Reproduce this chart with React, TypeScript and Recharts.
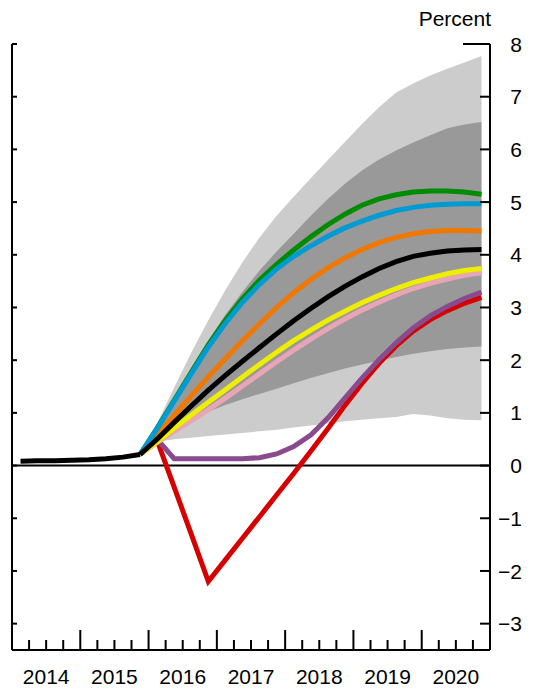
import { ComposedChart, Line, Area, XAxis, YAxis, ReferenceLine } from 'recharts'

const FONT = '"Liberation Sans", Arial, Helvetica, sans-serif'

// calendar years on the x axis (each split into quarters)
const years = ['2014', '2015', '2016', '2017', '2018', '2019', '2020']
const quarterNames = ['Q1', 'Q2', 'Q3', 'Q4']
const yTicks = [-3, -2, -1, 0, 1, 2, 3, 4, 5, 6, 7, 8]

// 2014Q1 - 2015Q4
const history = [0.08, 0.09, 0.09, 0.1, 0.11, 0.13, 0.16, 0.21]

// projections, 2016Q1 - 2020Q4
const green = [0.71, 1.24, 1.77, 2.29, 2.76, 3.17, 3.52, 3.82, 4.09, 4.34, 4.57, 4.77, 4.94, 5.06, 5.14, 5.19, 5.21, 5.21, 5.19, 5.15]
const blue = [0.7, 1.22, 1.74, 2.25, 2.7, 3.1, 3.44, 3.73, 3.97, 4.17, 4.35, 4.51, 4.64, 4.75, 4.84, 4.9, 4.94, 4.96, 4.97, 4.97]
const orange = [0.58, 0.95, 1.32, 1.68, 2.03, 2.37, 2.69, 3.0, 3.28, 3.53, 3.75, 3.94, 4.1, 4.23, 4.33, 4.4, 4.44, 4.46, 4.46, 4.45]
const baseline = [0.5, 0.82, 1.13, 1.43, 1.71, 1.98, 2.24, 2.5, 2.75, 2.98, 3.2, 3.4, 3.58, 3.74, 3.87, 3.97, 4.03, 4.07, 4.09, 4.1]
const yellow = [0.45, 0.71, 0.96, 1.2, 1.44, 1.68, 1.92, 2.15, 2.37, 2.57, 2.76, 2.93, 3.09, 3.23, 3.36, 3.47, 3.56, 3.64, 3.7, 3.74]
const pink = [0.44, 0.65, 0.85, 1.06, 1.28, 1.51, 1.74, 1.97, 2.19, 2.4, 2.6, 2.78, 2.95, 3.1, 3.24, 3.36, 3.46, 3.54, 3.61, 3.66]
const purple = [0.5, 0.13, 0.13, 0.13, 0.13, 0.13, 0.15, 0.22, 0.36, 0.58, 0.9, 1.28, 1.66, 2.01, 2.33, 2.61, 2.84, 3.02, 3.17, 3.29]
const red = [0.48, -0.41, -1.3, -2.2, -1.79, -1.38, -0.97, -0.56, -0.15, 0.27, 0.7, 1.14, 1.56, 1.94, 2.27, 2.55, 2.77, 2.94, 3.08, 3.19]

// uncertainty bands, 2016Q1 - 2020Q4
const outerHigh = [0.8, 1.48, 2.14, 2.76, 3.33, 3.86, 4.33, 4.74, 5.1, 5.45, 5.8, 6.14, 6.48, 6.8, 7.08, 7.25, 7.4, 7.53, 7.65, 7.77]
const innerHigh = [0.72, 1.3, 1.85, 2.38, 2.86, 3.3, 3.7, 4.06, 4.4, 4.74, 5.06, 5.35, 5.6, 5.81, 5.98, 6.13, 6.27, 6.4, 6.47, 6.52]
const innerLow = [0.45, 0.65, 0.85, 1.02, 1.15, 1.26, 1.36, 1.46, 1.56, 1.66, 1.75, 1.84, 1.92, 1.99, 2.06, 2.12, 2.17, 2.21, 2.24, 2.26]
const outerLow = [0.45, 0.5, 0.53, 0.56, 0.59, 0.62, 0.65, 0.68, 0.72, 0.76, 0.8, 0.84, 0.87, 0.9, 0.92, 0.98, 0.95, 0.9, 0.87, 0.86]

const PROJ_START = history.length // index of 2016Q1
const quarters = years.flatMap((y) => quarterNames.map((q) => y + q))

const proj = (arr: number[], i: number, joinHistory: boolean) => {
  if (joinHistory && i === PROJ_START - 1) return history[i]
  return i >= PROJ_START ? arr[i - PROJ_START] : null
}

const data = quarters.map((label, i) => ({
  label,
  x: i + 0.5,
  history: i < history.length ? history[i] : null,
  green: proj(green, i, true),
  blue: proj(blue, i, true),
  orange: proj(orange, i, true),
  baseline: proj(baseline, i, true),
  yellow: proj(yellow, i, true),
  pink: proj(pink, i, true),
  purple: proj(purple, i, false),
  red: proj(red, i, false),
  outer: i >= PROJ_START ? [outerLow[i - PROJ_START], outerHigh[i - PROJ_START]] : null,
  inner: i >= PROJ_START ? [innerLow[i - PROJ_START], innerHigh[i - PROJ_START]] : null,
}))

const xTicks = quarters.slice(1).map((_, i) => i + 1)

function QuarterTick({ x, y, payload }: any) {
  const q = payload.value
  const len = q % 4 === 0 ? 20 : 10
  return (
    <g>
      <line x1={x} x2={x} y1={y} y2={y - len} stroke="#000" strokeWidth={2} />
      {q % 4 === 2 && (
        <text x={x} y={y + 34} textAnchor="middle" fontSize={21} fontFamily={FONT} fill="#000">
          {years[(q - 2) / 4]}
        </text>
      )}
    </g>
  )
}

function LeftTick({ x, y }: any) {
  return <line x1={x} x2={x + 5} y1={y} y2={y} stroke="#000" strokeWidth={2} />
}

function RightTick({ x, y, payload }: any) {
  const v = payload.value
  const len = v === 8 ? 27 : 10
  return (
    <g>
      <line x1={x} x2={x - len} y1={y} y2={y} stroke="#000" strokeWidth={2} />
      <text x={x + 32} y={y} dy="0.36em" textAnchor="end" fontSize={21} fontFamily={FONT} fill="#000">
        {v < 0 ? '\u2212' + Math.abs(v) : v}
      </text>
    </g>
  )
}

const lineProps = { type: 'linear' as const, dot: false, activeDot: false, strokeWidth: 5, isAnimationActive: false, yAxisId: 'r' }

export default function App() {
  return (
    <div style={{ position: 'absolute', left: 0, top: 0, width: 540, height: 690, background: '#fff' }}>
      <div
        style={{
          position: 'absolute', right: 540 - 491, top: 8, fontSize: 21, lineHeight: '21px',
          fontFamily: FONT, color: '#000',
        }}
      >
        Percent
      </div>
      <ComposedChart width={540} height={690} data={data} margin={{ top: 44, right: 0, bottom: 0, left: 11 }}>
        <XAxis
          type="number"
          dataKey="x"
          domain={[0, 28]}
          ticks={xTicks}
          interval={0}
          allowDataOverflow
          height={40}
          tickSize={0}
          tickMargin={0}
          tickLine={false}
          axisLine={{ stroke: '#000', strokeWidth: 2 }}
          tick={<QuarterTick />}
        />
        <YAxis
          yAxisId="l"
          orientation="left"
          width={1}
          type="number"
          domain={[-3.5, 8]}
          ticks={yTicks}
          interval={0}
          allowDataOverflow
          tickSize={0}
          tickMargin={0}
          tickLine={false}
          axisLine={{ stroke: '#000', strokeWidth: 2 }}
          tick={<LeftTick />}
        />
        <YAxis
          yAxisId="r"
          orientation="right"
          width={50}
          type="number"
          domain={[-3.5, 8]}
          ticks={yTicks}
          interval={0}
          allowDataOverflow
          tickSize={0}
          tickMargin={0}
          tickLine={false}
          axisLine={{ stroke: '#000', strokeWidth: 2 }}
          tick={<RightTick />}
        />
        <Area yAxisId="r" type="linear" dataKey="outer" stroke="none" fill="#cccccc" fillOpacity={1} isAnimationActive={false} activeDot={false} />
        <Area yAxisId="r" type="linear" dataKey="inner" stroke="none" fill="#999999" fillOpacity={1} isAnimationActive={false} activeDot={false} />
        <ReferenceLine yAxisId="r" y={0} stroke="#000" strokeWidth={2} />
        <Line {...lineProps} dataKey="red" stroke="#d60000" />
        <Line {...lineProps} dataKey="purple" stroke="#8a4a8e" />
        <Line {...lineProps} dataKey="pink" stroke="#e8a5b5" />
        <Line {...lineProps} dataKey="yellow" stroke="#eeee00" />
        <Line {...lineProps} dataKey="orange" stroke="#f07800" />
        <Line {...lineProps} dataKey="green" stroke="#008c00" />
        <Line {...lineProps} dataKey="blue" stroke="#009bd2" />
        <Line {...lineProps} dataKey="baseline" stroke="#000" />
        <Line {...lineProps} dataKey="history" stroke="#000" />
      </ComposedChart>
    </div>
  )
}
